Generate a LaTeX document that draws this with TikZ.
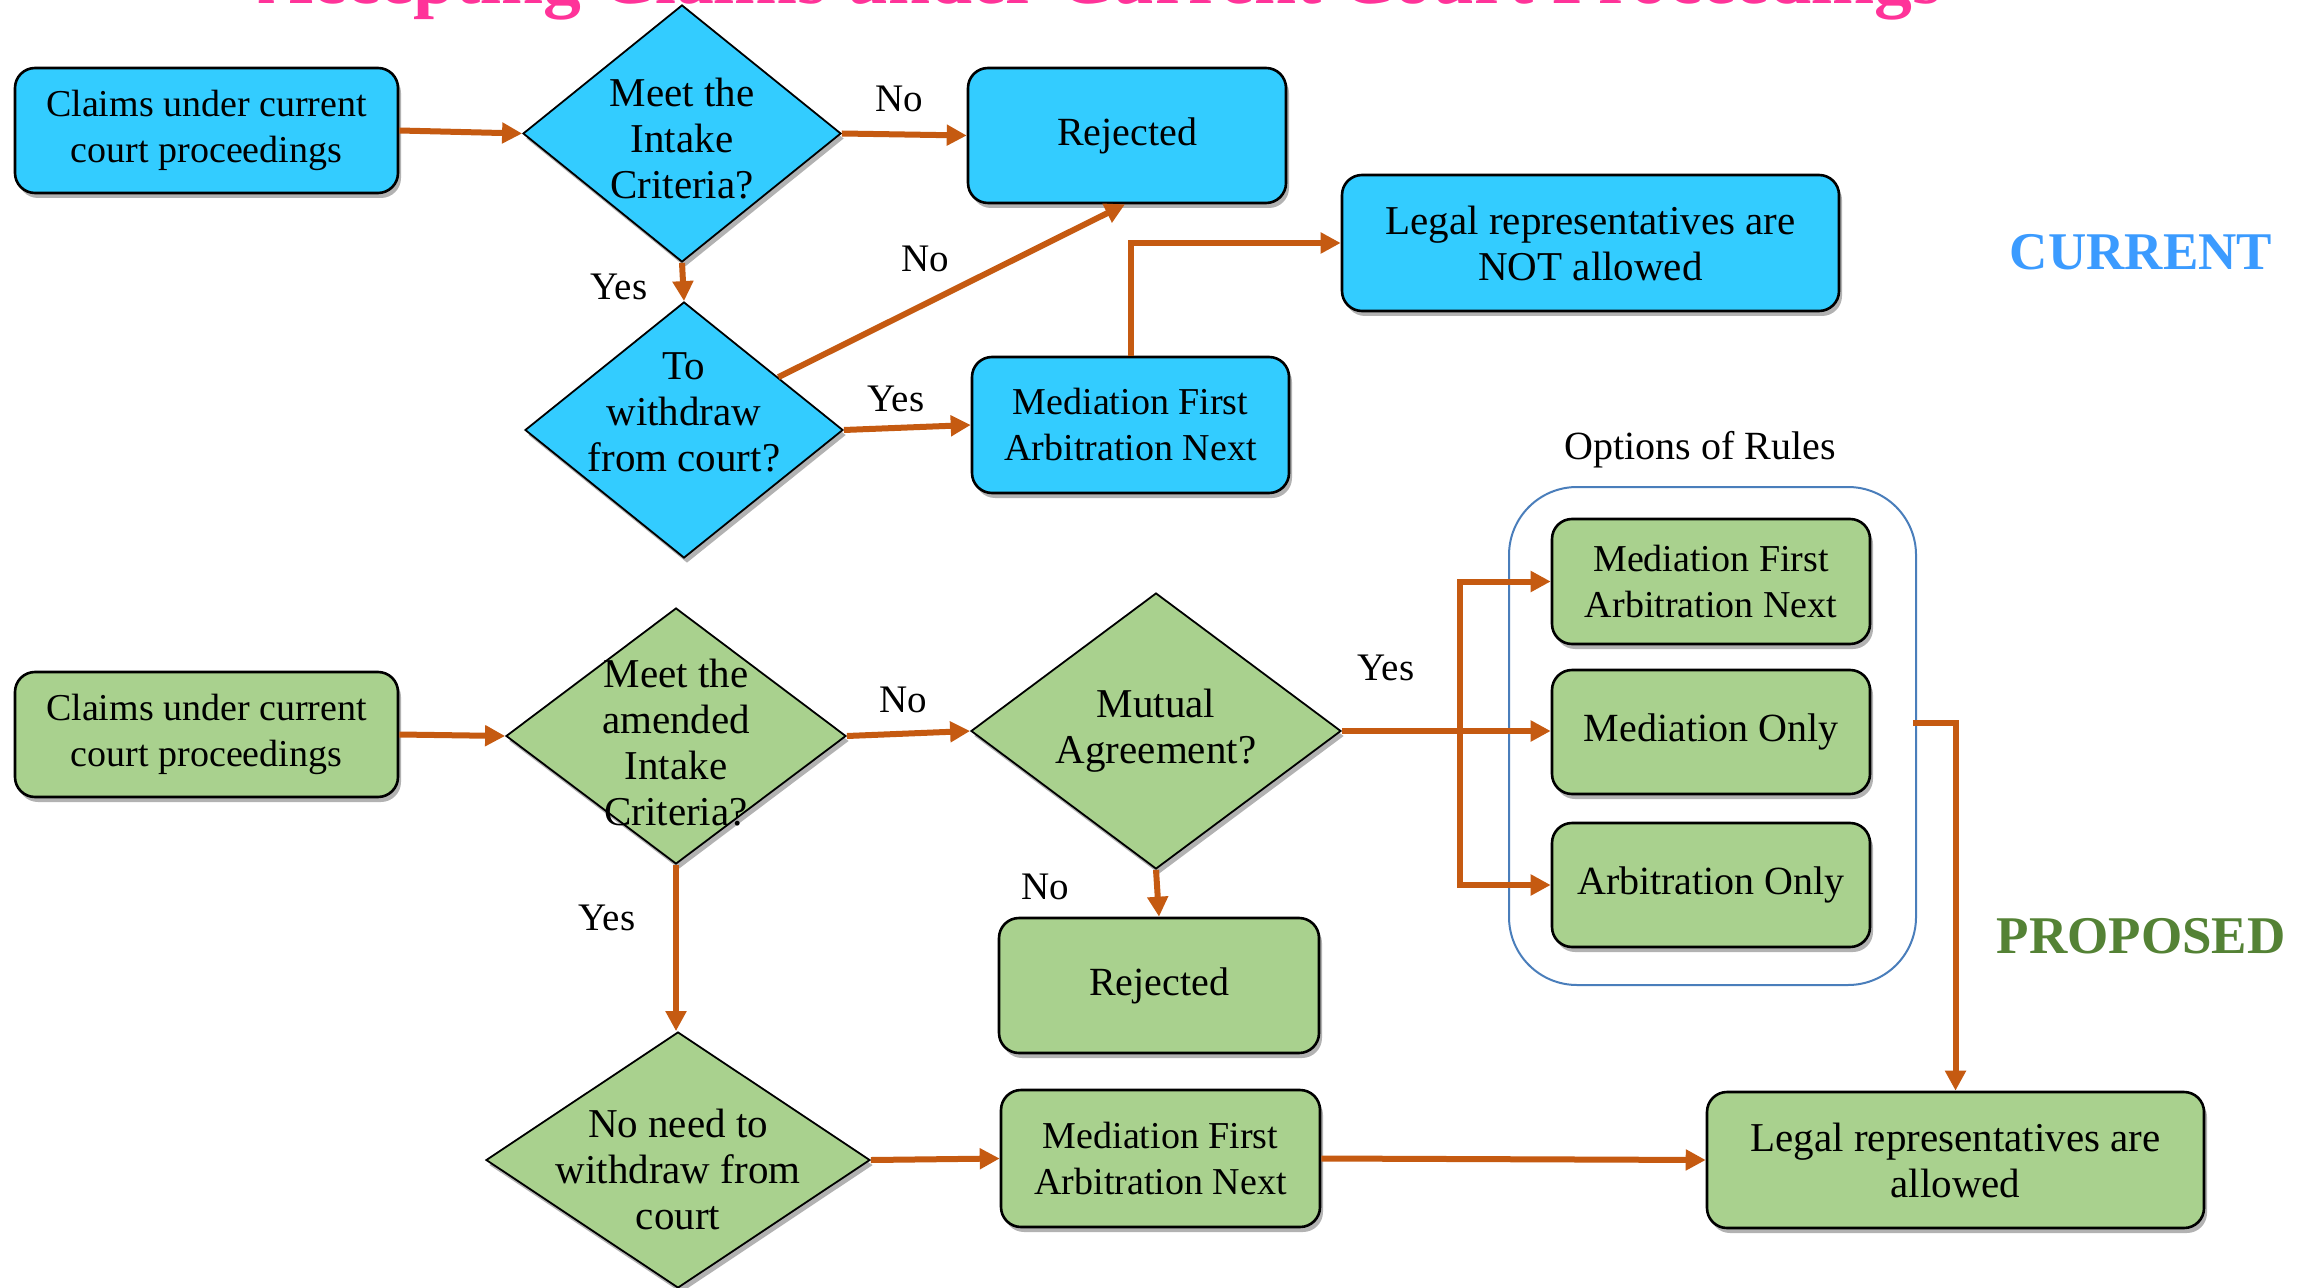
\documentclass[tikz,border=0pt]{standalone}
\usepackage{fontspec}
\setmainfont{Liberation Serif}
\usetikzlibrary{shapes.geometric,arrows.meta,shadows,calc}
\definecolor{cblue}{RGB}{51,204,255}
\definecolor{cgreen}{RGB}{169,209,142}
\definecolor{carrow}{RGB}{197,90,17}
\definecolor{cframe}{RGB}{74,126,187}
\definecolor{ccur}{RGB}{59,155,255}
\definecolor{cprop}{RGB}{84,130,53}
\definecolor{ctitle}{RGB}{255,51,153}
\tikzset{
  shadowed/.style={drop shadow={shadow xshift=1.5pt, shadow yshift=-2.5pt, fill=black, opacity=0.3}},
  box/.style={draw=black, line width=1.3pt, rounded corners=10pt, align=center, inner sep=0pt, shadowed},
  bluebox/.style={box, fill=cblue},
  greenbox/.style={box, fill=cgreen},
  dia/.style={diamond, draw=black, line width=0.9pt, inner sep=0pt, shadowed},
  dtext/.style={align=center, font=\fontsize{20.5}{23}\selectfont},
  arr/.style={draw=carrow, line width=3pt, -{Triangle[length=10pt,width=10pt]}},
  plain/.style={draw=carrow, line width=3pt},
  lbl/.style={font=\fontsize{19.5}{23}\selectfont, inner sep=0pt},
  fa/.style={font=\fontsize{19}{23}\selectfont},
  fb/.style={font=\fontsize{20}{23}\selectfont},
  fc/.style={font=\fontsize{20.5}{23}\selectfont},
}
\begin{document}
\begin{tikzpicture}[x=0.5pt,y=-0.5pt]
\useasboundingbox (0,0) rectangle (2310,1288);
\fill[white] (0,0) rectangle (2310,1288);

% title (cut off at the top edge)
\node[anchor=base, text=ctitle, font=\bfseries\fontsize{37.8}{40}\selectfont, inner sep=0pt] (title) at (1100,3.5) {Accepting Claims under Current Court Proceedings};

% ---------- CURRENT ----------
\node[bluebox, fa, minimum width=191.5pt, minimum height=62.5pt] (a1) at (206.5,130.5) {Claims under current\\court proceedings};
\node[dia, fill=cblue, minimum width=159pt, minimum height=128.5pt,
      label={[dtext, yshift=-2.5pt]center:Meet the\\Intake\\Criteria?}] (d1) at (682,133.5) {};
\node[bluebox, fb, minimum width=159pt, minimum height=67.5pt] (r1) at (1127,135.5) {Rejected};
\node[dia, fill=cblue, minimum width=159pt, minimum height=128pt,
      label={[dtext, yshift=8.75pt]center:To\\withdraw\\from court?}] (d2) at (684,430) {};
\node[bluebox, fa, minimum width=158.5pt, minimum height=68pt] (m1) at (1130.5,425) {Mediation First\\Arbitration Next};
\node[bluebox, fc, minimum width=248.5pt, minimum height=68pt] (l1) at (1590.5,243) {Legal representatives are\\NOT allowed};
\node[text=ccur, font=\bfseries\fontsize{26.5}{30}\selectfont, inner sep=0pt] (cur) at (2141,252.5) {CURRENT};

\node[lbl] (no1) at (899,99) {No};
\node[lbl] (yes1) at (619,287) {Yes};
\node[lbl] (no2) at (925,259) {No};
\node[lbl] (yes2) at (896,399) {Yes};

\draw[arr] (a1.east) -- (d1.west);
\draw[arr] (d1.east) -- (r1.west);
\draw[arr] (d1.south) -- (d2.north);
\draw[arr] ($(d2.north)!0.59!(d2.east)$) -- ($(r1.south)+(-2,0)$);
\draw[arr] (d2.east) -- (m1.west);
\draw[arr] (m1.north) |- (l1.west);

% ---------- PROPOSED ----------
\node[greenbox, fa, minimum width=191.5pt, minimum height=62.5pt] (a2) at (206.5,734.5) {Claims under current\\court proceedings};
\node[dia, fill=cgreen, minimum width=170pt, minimum height=128pt,
      label={[dtext, yshift=-3.25pt]center:Meet the\\amended\\Intake\\Criteria?}] (d3) at (676,736) {};
\node[dia, fill=cgreen, minimum width=185pt, minimum height=138pt,
      label={[dtext]center:Mutual\\Agreement?}] (d4) at (1156,731) {};
\node[draw=cframe, line width=1pt, rounded corners=34pt, minimum width=203.5pt, minimum height=249pt] (opt) at (1712.5,736) {};
\node[font=\fontsize{20}{23}\selectfont, inner sep=0pt] (optlbl) at (1700,450) {Options of Rules};
\node[greenbox, fa, minimum width=159pt, minimum height=62.5pt] (o1) at (1711,581.5) {Mediation First\\Arbitration Next};
\node[greenbox, fb, minimum width=159pt, minimum height=62pt] (o2) at (1711,732) {Mediation Only};
\node[greenbox, fb, minimum width=159pt, minimum height=62pt] (o3) at (1711,885) {Arbitration Only};
\node[greenbox, fb, minimum width=160pt, minimum height=67.5pt] (r2) at (1159,985.5) {Rejected};
\node[dia, fill=cgreen, minimum width=192pt, minimum height=128pt,
      label={[dtext, yshift=-4.5pt]center:No need to\\withdraw from\\court}] (d5) at (678,1160) {};
\node[greenbox, fa, minimum width=159.5pt, minimum height=68.5pt] (m2) at (1160.5,1158.5) {Mediation First\\Arbitration Next};
\node[greenbox, fc, minimum width=248.5pt, minimum height=68pt] (l2) at (1955.5,1160) {Legal representatives are\\allowed};
\node[text=cprop, font=\bfseries\fontsize{26.5}{30}\selectfont, inner sep=0pt] (prop) at (2141,936) {PROPOSED};

\node[lbl] (no3) at (903,700) {No};
\node[lbl] (yes3) at (1386,668) {Yes};
\node[lbl] (no4) at (1045,887) {No};
\node[lbl] (yes4) at (607,918) {Yes};

\coordinate (trunk) at (1460,731);
\coordinate (optout) at ($(opt.east)+(-4,-13)$);

\draw[arr] (a2.east) -- (d3.west);
\draw[arr] (d3.east) -- (d4.west);
\draw[arr] (d4.east) -- (d4.east -| o2.west);
\draw[arr] (trunk) |- (o1.west);
\draw[arr] (trunk) |- (o3.west);
\draw[arr] (d4.south) -- (r2.north);
\draw[arr] (d3.south) -- (d3.south |- d5.north);
\draw[arr] (d5.east) -- (m2.west);
\draw[arr] (m2.east) -- (l2.west);
\draw[arr] (optout) -| (l2.north);
\end{tikzpicture}
\end{document}
